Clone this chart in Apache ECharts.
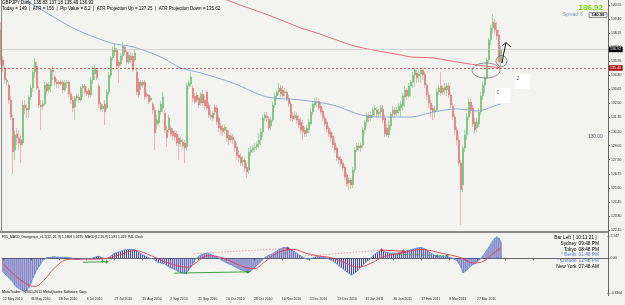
<!DOCTYPE html>
<html><head><meta charset="utf-8">
<script src="https://cdn.jsdelivr.net/npm/echarts@6/dist/echarts.min.js"></script>
<style>html,body{margin:0;padding:0;background:#f3f4f0}#c{width:625px;height:305px}</style>
</head><body><div id="c"></div><script>
// ---- data ----
const dateLabels = ['12 May 2010','31 May 2010','18 Jun 2010','8 Jul 2010','27 Jul 2010','15 Aug 2010','2 Sep 2010','21 Sep 2010','10 Oct 2010','28 Oct 2010','16 Nov 2010','5 Dec 2010','23 Dec 2010','11 Jan 2011','30 Jan 2011','17 Feb 2011','8 Mar 2011','27 Mar 2011'];
const priceTicks = ['140.55','139.40','138.25','137.10','135.95','134.80','133.65','132.50','131.35','130.20','129.05','127.90','126.75','125.60','124.45','123.30','122.15'];
const macdTicks = ['2.147','0.00','-3.3304'];
// [open, close, low, high]
const bars = [
[138.51,136.05,135.64,139.16],[136.05,135.56,135.07,136.38],[135.40,134.42,134.09,135.56],[134.25,134.42,133.93,134.58],[134.01,132.78,132.46,134.25],
[132.78,131.39,131.15,133.11],[131.31,128.53,126.73,131.56],[128.69,129.92,127.88,130.33],[130.00,129.68,129.10,130.49],[129.68,129.27,128.69,130.33],
[129.51,129.10,127.63,129.92],[129.27,132.37,129.02,132.78],[132.37,132.13,131.64,132.78],[132.13,131.97,131.31,132.46],[131.97,133.03,131.31,133.19],
[133.03,133.76,132.78,134.01],[133.76,135.07,133.44,135.24],[135.07,135.89,134.58,136.22],[135.56,133.76,133.60,135.89],[133.60,132.37,132.13,133.93],
[132.37,132.21,130.33,132.78],[132.29,132.46,131.97,132.78],[132.46,134.01,132.29,134.25],[134.09,133.52,133.27,134.25],[133.60,134.01,133.36,134.25],
[133.93,135.24,133.44,135.40],[135.24,135.07,134.42,135.56],[134.66,134.25,133.93,134.83],[134.25,134.09,133.76,134.50],[134.09,134.25,133.76,134.42],
[134.25,134.09,133.93,134.42],[134.25,133.60,133.36,134.42],[133.60,134.17,133.44,134.42],[134.17,134.25,133.76,134.42],[134.25,133.27,133.03,134.42],
[133.27,132.78,132.46,133.44],[132.78,132.13,131.80,133.11],[132.21,132.95,131.15,133.11],[132.95,133.11,132.70,133.36],[133.03,132.78,132.54,133.27],
[132.78,133.76,132.62,133.93],[133.76,133.93,133.03,134.09],[133.93,133.44,133.19,134.09],[133.52,133.27,133.11,133.85],[133.60,133.19,132.95,133.76],
[133.19,134.42,133.03,134.66],[134.42,135.24,134.09,135.56],[134.91,135.40,134.42,135.64],[135.24,134.58,134.42,135.40],[133.93,132.46,132.13,134.09],
[132.46,132.05,131.80,132.62],[132.05,132.29,131.80,132.46],[132.46,131.80,130.74,132.78],[132.13,133.44,131.97,133.68],[133.44,134.83,133.27,135.07],
[134.83,136.22,134.58,136.38],[136.22,136.87,136.05,137.12],[136.71,137.03,136.38,137.44],[136.87,135.56,135.40,137.03],[135.89,135.56,134.17,136.05],
[135.73,136.38,135.56,136.63],[136.38,137.20,136.05,137.53],[137.12,136.71,136.46,137.28],[136.71,135.89,135.64,136.87],[135.89,136.46,135.73,136.71],
[136.38,136.05,135.81,136.71],[136.38,135.24,135.07,136.63],[136.05,136.63,135.89,136.87],[135.07,133.44,133.19,135.40],[134.25,133.19,132.95,134.58],
[133.93,134.25,133.60,134.42],[134.25,134.01,133.76,134.42],[134.25,133.03,132.78,134.42],[133.27,133.11,132.87,133.44],[133.19,132.62,132.46,133.27],
[132.78,132.95,132.62,133.11],[132.46,131.97,131.64,132.62],[131.97,130.08,128.69,132.21],[130.82,131.15,130.33,131.56],[130.90,131.88,130.66,132.05],
[131.80,132.46,131.56,132.70],[132.13,133.03,131.80,133.44],[131.72,130.33,130.08,131.97],[130.33,129.68,128.94,130.66],[130.33,131.31,130.08,131.56],
[130.49,130.00,129.76,130.74],[130.25,129.84,129.51,130.49],[130.08,129.76,129.43,130.33],[130.00,129.27,129.02,130.25],[129.68,129.19,127.88,129.84],
[129.35,129.51,128.94,129.76],[129.35,129.02,128.69,129.59],[129.27,128.86,127.63,129.51],[128.94,133.93,128.69,134.25],[133.93,134.17,133.68,134.42],
[134.09,134.66,133.85,135.07],[133.76,132.95,132.62,134.01],[133.11,132.62,132.46,133.36],[133.19,132.78,132.54,133.44],[132.95,132.37,132.13,133.19],
[132.54,133.27,132.29,133.44],[133.27,132.54,132.29,133.60],[132.78,132.29,131.97,133.11],[133.44,132.13,131.88,133.60],[132.37,131.56,131.31,132.62],
[131.56,131.39,131.15,131.97],[131.31,131.72,131.07,131.88],[132.21,131.80,131.56,132.46],[132.13,130.98,130.74,132.37],[131.31,130.49,130.17,131.56],
[130.66,130.33,129.92,130.90],[130.49,130.17,129.84,130.74],[130.33,130.58,130.00,130.74],[130.33,129.68,129.35,130.58],[129.92,129.51,129.10,130.33],
[129.51,129.84,129.27,130.08],[129.76,129.51,129.19,130.00],[129.43,128.86,128.53,129.68],[128.94,128.20,127.88,129.27],[128.29,128.04,127.71,128.69],
[128.12,127.63,127.39,128.45],[127.71,127.88,127.30,128.20],[127.88,127.22,126.90,128.12],[127.30,126.90,126.41,127.63],[127.06,128.53,126.73,128.86],
[128.53,128.69,128.20,129.02],[128.69,128.86,128.45,129.10],[128.86,128.94,128.53,129.27],[128.94,129.19,128.69,129.43],[129.19,129.51,128.86,130.08],
[129.51,130.17,129.10,130.49],[130.17,131.31,129.76,131.56],[131.31,131.56,131.07,131.80],[131.47,131.31,130.98,131.80],[131.23,130.49,130.25,131.47],
[130.66,131.15,130.33,131.39],[131.15,132.37,130.98,132.62],[132.37,133.11,132.13,133.36],[133.11,133.44,132.78,133.60],[133.44,133.76,133.19,134.17],
[133.76,133.27,133.03,134.01],[133.60,133.11,132.95,133.93],[133.36,133.44,133.11,133.76],[133.44,132.87,132.70,133.68],[132.95,132.46,132.21,133.19],
[132.46,131.31,131.07,132.70],[131.47,131.23,130.98,131.80],[131.31,131.56,131.15,131.88],[131.47,131.15,130.82,131.80],[131.23,130.74,130.49,131.56],
[130.98,130.33,130.00,131.31],[130.66,130.17,129.51,131.15],[130.33,130.00,129.76,130.58],[130.08,130.49,129.76,130.74],[130.33,130.98,130.08,131.23],
[130.82,131.80,130.66,132.13],[131.80,132.46,131.56,132.70],[132.37,132.62,132.13,132.95],[132.54,132.62,132.21,133.03],[132.70,132.13,131.97,132.95],
[132.29,131.80,131.56,132.54],[131.88,131.31,131.07,132.13],[131.31,130.82,130.58,131.56],[130.98,130.41,130.17,131.23],[130.49,130.00,129.76,130.66],
[130.17,129.68,129.35,130.33],[129.84,129.10,128.86,130.08],[129.27,128.69,128.45,129.51],[128.86,128.04,127.80,129.02],[128.12,127.88,127.55,128.29],
[127.96,127.55,127.30,128.20],[127.63,127.22,126.98,127.88],[127.30,126.49,126.24,127.47],[126.65,125.91,125.67,126.90],[126.00,126.24,125.42,126.49],
[126.24,125.83,125.51,126.41],[125.83,127.06,125.59,127.30],[127.06,128.69,126.81,128.94],[128.69,129.02,128.53,129.27],[129.02,128.86,128.61,129.27],
[128.86,129.10,128.53,129.35],[129.10,130.33,128.86,130.58],[130.33,130.98,130.00,131.15],[130.98,131.56,130.66,131.80],[131.56,131.31,130.98,131.80],
[131.31,131.56,131.07,131.80],[131.56,131.97,131.31,132.21],[131.97,132.13,131.47,132.37],[131.97,131.64,131.31,132.21],[131.64,131.80,131.31,132.05],
[131.80,132.13,131.47,132.37],[132.05,131.15,130.90,132.37],[131.31,130.00,129.76,131.56],[130.49,129.92,129.76,130.82],[129.92,130.74,129.68,131.15],
[130.66,131.64,130.33,131.80],[131.64,131.97,131.39,132.29],[131.97,131.64,131.39,132.21],[131.72,131.97,131.47,132.21],[131.88,132.29,131.64,132.54],
[132.13,132.46,131.39,132.70],[132.29,133.11,131.97,133.36],[133.03,133.60,132.21,133.93],[133.60,133.11,132.78,133.76],[133.11,133.93,132.95,134.17],
[133.93,134.25,133.03,134.42],[134.25,134.83,133.76,135.07],[134.83,135.24,133.85,135.40],[134.99,134.58,134.17,135.24],[134.75,134.91,134.25,135.24],
[134.91,135.24,134.17,135.40],[135.24,134.83,134.42,135.40],[134.91,134.01,133.76,135.07],[134.01,133.19,132.78,134.17],[133.19,132.54,132.13,133.44],
[132.54,131.97,131.39,132.78],[132.13,131.80,131.15,132.37],[131.80,131.97,131.31,132.29],[131.97,133.44,131.80,133.76],[133.44,133.76,133.19,134.01],
[133.93,133.36,133.11,135.07],[133.44,133.76,133.19,134.01],[133.85,133.60,133.27,134.17],[133.60,133.93,133.11,134.17],[133.93,133.19,132.95,134.17],
[133.19,132.37,132.13,133.44],[132.29,131.39,131.15,132.54],[131.39,130.33,129.92,131.64],[130.33,129.51,129.10,130.66],[129.51,127.63,127.39,129.92],
[127.63,125.42,122.56,127.88],[125.83,128.86,125.26,129.10],[128.86,129.92,128.53,130.33],[129.92,131.39,129.51,131.72],[131.39,132.62,131.15,132.95],
[132.62,131.97,131.64,132.87],[132.13,130.82,130.58,132.37],[130.98,130.33,130.08,131.31],[130.49,130.98,130.17,131.31],[130.82,131.80,130.58,132.13],
[131.80,133.11,131.56,133.44],[133.11,134.01,132.78,134.25],[134.01,134.58,133.36,134.75],[134.58,136.05,134.42,136.22],[136.05,137.69,135.89,137.85],
[137.69,138.67,137.28,138.92],[138.67,139.16,138.26,139.82],[139.08,138.51,138.10,139.49],[138.51,138.02,137.69,139.16],[138.10,135.89,135.56,138.51],
[135.83,136.92,135.49,137.18]
];
// moving averages, [bar index, price]
const maBlue = [[0,142.10],[12,140.96],[28,139.41],[38,138.51],[55,137.44],[66,137.12],[80,136.30],[90,135.40],[100,134.99],[116,134.17],[133,133.03],[150,132.78],[166,132.37],[180,131.56],[190,131.39],[205,131.39],[216,131.80],[228,132.05],[238,131.88],[248,132.37],[250,132.45]];
const maRed = [[100,142.00],[113,140.96],[135,139.65],[150,138.67],[158,138.26],[175,137.28],[186,136.87],[200,136.46],[205,136.30],[216,136.22],[228,135.89],[238,135.64],[246,135.48],[250,135.40]];
const bidPrice = 136.92;
const levelPrice = 135.40;
// MACD main (histogram), one value per bar
const macdMain = [
-1.3,-1.5,-1.7,-1.9,-2.1,-2.3,-2.6,-2.8,-2.9,-3.0,-3.1,-3.2,-3.1,-2.8,-2.4,-1.9,-1.5,-1.1,-0.8,-0.5,
-0.2,-0.05,0.05,0.05,0.1,0.15,0.15,0.12,0.1,0.1,0.12,0.1,0.1,0.08,0.05,0.0,-0.1,-0.15,-0.1,-0.1,
-0.05,0.0,0.0,-0.05,-0.05,0.0,0.1,0.2,0.2,0.1,0.05,0.0,-0.05,0.05,0.2,0.35,0.5,0.55,0.6,0.65,
0.75,0.8,0.85,0.85,0.85,0.9,0.85,0.75,0.6,0.45,0.35,0.25,0.15,0.05,0.0,-0.05,-0.1,-0.3,-0.4,-0.45,
-0.5,-0.5,-0.65,-0.8,-0.85,-0.95,-1.05,-1.15,-1.25,-1.35,-1.4,-1.45,-1.5,-1.2,-0.9,-0.6,-0.3,0.0,0.15,0.3,
0.4,0.45,0.5,0.5,0.4,0.3,0.2,0.15,0.05,-0.05,-0.2,-0.3,-0.4,-0.5,-0.6,-0.65,-0.75,-0.85,-0.95,-1.05,
-1.15,-1.2,-1.3,-1.4,-1.3,-1.1,-0.9,-0.75,-0.6,-0.4,-0.2,0.0,0.15,0.25,0.3,0.4,0.5,0.65,0.8,0.9,
1.0,1.05,1.05,1.0,0.9,0.8,0.7,0.55,0.4,0.3,0.15,0.05,-0.05,-0.1,-0.1,0.0,0.1,0.15,0.15,0.15,
0.15,0.1,0.05,0.0,-0.1,-0.2,-0.3,-0.45,-0.6,-0.75,-0.9,-1.05,-1.2,-1.35,-1.5,-1.6,-1.5,-1.35,-1.2,-1.0,
-0.8,-0.6,-0.4,-0.25,-0.1,0.1,0.3,0.45,0.6,0.7,0.75,0.7,0.6,0.55,0.5,0.5,0.5,0.5,0.5,0.55,
0.6,0.65,0.7,0.75,0.8,0.85,0.9,0.95,1.0,1.05,1.05,1.0,0.9,0.75,0.6,0.45,0.35,0.3,0.25,0.2,
0.2,0.2,0.15,0.15,0.1,0.05,0.0,-0.1,-0.25,-0.5,-0.9,-1.4,-1.3,-1.1,-0.9,-0.7,-0.6,-0.5,-0.35,-0.2,
0.0,0.25,0.5,0.8,1.1,1.4,1.7,1.95,2.1,1.95,1.58
];
// MACD signal, [bar index, value]
const macdSignal = [[0,-0.5],[8,-1.95],[16,-2.7],[21,-2.0],[26,-0.9],[33,-0.1],[50,-0.05],[58,0.3],[66,0.75],[75,0.2],[83,-0.45],[93,-0.85],[96,-0.55],[103,0.25],[110,0.05],[120,-0.75],[126,-1.0],[131,-0.4],[138,0.55],[146,0.85],[152,0.5],[158,0.25],[165,0.05],[172,-0.45],[178,-0.85],[185,-0.45],[191,0.15],[200,0.5],[210,0.85],[220,0.5],[230,0.05],[236,-0.45],[241,-0.3],[246,0.45],[250,1.02]];
// divergence lines and markers, [bar index, value]
const divGreenA = [[40,-0.37],[53,-0.33]];
const divGreenB = [[86,-1.42],[123,-1.3]];
const divRedA = [[96,0.45],[143,0.96]];
const divRedB = [[150,0.2],[190,0.79]];
const divRedC = [[190,0.79],[201,0.69]];
const divGreenC = [[195,0.4],[223,0.24]];
const redMarks = [[143,0.96],[190,0.79],[201,0.69]];
const greenMarks = [[50,-0.27],[52,-0.33],[123,-1.3],[218,0.21],[223,0.24]];

// ---- chart ----
const NCAT = 304;
const cats = Array.from({length: NCAT}, (_, i) => String(i));
const FONT = 'Liberation Sans, Arial, sans-serif';
const priceTickVals = priceTicks.map(Number);
const macdTickVals = macdTicks.map(Number);
const chart = echarts.init(document.getElementById('c'), null, {renderer: 'canvas'});

function lineSeries(data, color, type, width, x, y) {
  return {type: 'line', xAxisIndex: x, yAxisIndex: y, data: data, showSymbol: false, silent: true,
    lineStyle: {color: color, type: type, width: width}, z: 4};
}

const txt = (x, y, text, size, color, extra) => ({type: 'text', x: x, y: y, silent: true, z: 100,
  style: Object.assign({text: text, fontSize: size, fill: color, fontFamily: FONT}, extra || {})});

const clockRows = [['Bar Left', '[ 10:11:21 ]', '#000'], ['Sydney', '09:48 PM', '#000'], ['Tokyo', '08:48 PM', '#000'],
  ['* Berlin', '01:48 PM', '#4d80d6'], ['* London', '12:48 PM', '#4d80d6'], ['New York', '07:48 AM', '#000']];

const graphics = [
  // panel borders
  {type: 'line', shape: {x1: 1.5, y1: 0, x2: 1.5, y2: 231}, style: {stroke: '#888', lineWidth: 1}, silent: true, z: 50},
  {type: 'rect', shape: {x: 0, y: 231, width: 609, height: 2}, style: {fill: '#8a8a8a'}, silent: true, z: 50},
  {type: 'line', shape: {x1: 608.5, y1: 0, x2: 608.5, y2: 296}, style: {stroke: '#666', lineWidth: 1}, silent: true, z: 50},
  // header texts
  txt(2, 0.5, 'GBPJPY,Daily  135.83 137.18 135.49 136.92', 4.6, '#000'),
  txt(2, 6.5, 'Today = 149  |  ATR = 156  |  Pip Value = 8.2  |  ATR Projection Up = 137.25  |  ATR Projection Down = 135.62', 4.5, '#000'),
  txt(603, 4, '136.92', 8, '#6de000', {align: 'right', fontWeight: 'bold'}),
  txt(563, 12.5, 'Spread: 6', 4.6, '#7b98c8'),
  {type: 'rect', shape: {x: 589, y: 12.5, width: 18, height: 5}, style: {fill: '#e6e6e6', stroke: '#444', lineWidth: 0.5}, silent: true, z: 99},
  txt(598, 13, '140.00', 4.2, '#111', {align: 'center', fontWeight: 'bold'}),
  txt(588, 134.5, '130.00', 4.8, '#556'),
  // annotations
  {type: 'rect', shape: {x: 495, y: 88, width: 15, height: 15}, style: {fill: '#fff'}, silent: true, z: 60},
  txt(496.5, 90, '1', 5, '#555'),
  {type: 'rect', shape: {x: 515, y: 74, width: 15, height: 15}, style: {fill: '#fff'}, silent: true, z: 60},
  txt(516.5, 76, '2', 5, '#555'),
  {type: 'ellipse', shape: {cx: 486, cy: 70.5, rx: 14, ry: 7.5}, style: {fill: 'none', stroke: '#666', lineWidth: 0.7}, silent: true, z: 61},
  {type: 'circle', shape: {cx: 501.5, cy: 61, r: 5.5}, style: {fill: 'none', stroke: '#666', lineWidth: 0.7}, silent: true, z: 61},
  {type: 'polyline', shape: {points: [[502, 63], [504, 52], [506, 43]]}, style: {stroke: '#111', lineWidth: 1, fill: 'none'}, silent: true, z: 62},
  {type: 'polyline', shape: {points: [[502.5, 45.5], [506, 42.5], [511, 47]]}, style: {stroke: '#111', lineWidth: 1, fill: 'none'}, silent: true, z: 62},
  // indicator panel texts
  txt(2, 236, 'FX5_MACD_Divergence_v1.1(12, 26, 9) 1.5808 1.0195  MACD(12,26,9) 1.581 1.019  P4L Clock', 3.3, '#000'),
  txt(2, 289.5, 'MetaTrader \u00a9 2001-2011 MetaQuotes Software Corp.', 3.6, '#000'),
];
clockRows.forEach((r, k) => {
  const y = 235.5 + k * 5.7;
  const rx = k === 0 ? 571 : 576.5;
  graphics.push(txt(rx, y, r[0], 4.8, r[2], {align: 'right'}));
  graphics.push(txt(rx + 2, y, r[1], 4.8, r[2]));
});

const option = {
  animation: false,
  backgroundColor: '#f3f4f0',
  textStyle: {fontFamily: FONT},
  grid: [
    {left: 0, right: 17, top: 0, height: 231},
    {left: 0, right: 17, top: 236, height: 57}
  ],
  xAxis: [
    {type: 'category', gridIndex: 0, data: cats, boundaryGap: true, axisLine: {show: false}, axisTick: {show: false}, axisLabel: {show: false}, splitLine: {show: false}},
    {type: 'category', gridIndex: 1, data: cats, boundaryGap: true, offset: 3,
      axisLine: {show: true, lineStyle: {color: '#666', width: 1}},
      axisTick: {show: true, length: 2, interval: (i) => i % 14 === 0, alignWithLabel: true, lineStyle: {color: '#666'}},
      axisLabel: {show: true, interval: (i) => i % 14 === 0, formatter: (v, i) => (i % 14 === 0 && dateLabels[i / 14]) ? dateLabels[i / 14] : '',
        align: 'left', fontSize: 3.4, color: '#222', margin: 2, fontFamily: FONT},
      splitLine: {show: false}}
  ],
  yAxis: [
    {type: 'value', gridIndex: 0, position: 'right', min: 122.07, max: 140.96,
      axisLine: {show: false}, splitLine: {show: false},
      axisTick: {show: true, customValues: priceTickVals, length: 2, lineStyle: {color: '#666'}},
      axisLabel: {show: true, customValues: priceTickVals, formatter: (v) => { const k = priceTickVals.findIndex(t => Math.abs(t - v) < 0.001); return k >= 0 ? priceTicks[k] : ''; },
        fontSize: 3.4, color: '#222', margin: 3, fontFamily: FONT}},
    {type: 'value', gridIndex: 1, position: 'right', min: -3.3304, max: 2.147,
      axisLine: {show: false}, splitLine: {show: false},
      axisTick: {show: true, customValues: macdTickVals, length: 2, lineStyle: {color: '#666'}},
      axisLabel: {show: true, customValues: macdTickVals, showMinLabel: true, showMaxLabel: true,
        formatter: (v) => { const k = macdTickVals.findIndex(t => Math.abs(t - v) < 0.0001); return k >= 0 ? macdTicks[k] : ''; },
        fontSize: 3.4, color: '#222', margin: 3, fontFamily: FONT}}
  ],
  series: [
    {type: 'candlestick', xAxisIndex: 0, yAxisIndex: 0, data: bars, barWidth: 1.4, silent: true, z: 3,
      itemStyle: {color: '#2f9f2f', color0: '#cc1f1f', borderColor: '#79c479', borderColor0: '#e58b8b', borderWidth: 0.6},
      markLine: {silent: true, symbol: ['none', 'none'], animation: false,
        data: [
          {yAxis: bidPrice, lineStyle: {color: '#c4c4c4', type: 'solid', width: 0.6},
            label: {show: true, position: 'end', distance: 0.5, formatter: bidPrice.toFixed(2), backgroundColor: '#000', color: '#fff', fontSize: 3.6, padding: [0.8, 1.6], fontFamily: FONT}},
          {yAxis: levelPrice, lineStyle: {color: '#e03030', type: [2, 2], width: 0.8},
            label: {show: true, position: 'end', distance: 0.5, formatter: levelPrice.toFixed(2), backgroundColor: '#a81616', color: '#fff', fontSize: 3.6, padding: [0.8, 1.6], fontFamily: FONT}}
        ]}},
    Object.assign(lineSeries(maBlue, '#8eaad6', 'solid', 1, 0, 0), {smooth: 0.3}),
    Object.assign(lineSeries(maRed, '#e86a78', 'solid', 1, 0, 0), {smooth: 0.3}),
    {type: 'bar', xAxisIndex: 1, yAxisIndex: 1, data: macdMain, barWidth: 1, silent: true, itemStyle: {color: '#3f3fae'}, z: 2},
    Object.assign(lineSeries(macdMain, '#5e92e8', 'solid', 0.9, 1, 1), {z: 3}),
    Object.assign(lineSeries(macdSignal, '#e23d48', 'solid', 0.9, 1, 1), {smooth: 0.4, z: 5}),
    lineSeries(divGreenA, '#2e9a2e', 'solid', 0.9, 1, 1),
    lineSeries(divGreenB, '#2e9a2e', 'solid', 0.9, 1, 1),
    lineSeries(divRedA, '#ee8a8a', [1.5, 1.5], 0.8, 1, 1),
    lineSeries(divRedB, '#ee8a8a', [1.5, 1.5], 0.8, 1, 1),
    lineSeries(divRedC, '#e03030', 'solid', 0.9, 1, 1),
    lineSeries(divGreenC, '#2e9a2e', [1.5, 1.5], 0.8, 1, 1),
    {type: 'scatter', xAxisIndex: 1, yAxisIndex: 1, data: redMarks, symbol: 'path://M0,-1L0.3,-0.3L1,0L0.3,0.3L0,1L-0.3,0.3L-1,0L-0.3,-0.3Z', symbolSize: 4.5, itemStyle: {color: '#e01010'}, silent: true, z: 6},
    {type: 'scatter', xAxisIndex: 1, yAxisIndex: 1, data: greenMarks, symbol: 'path://M0,-1L0.3,-0.3L1,0L0.3,0.3L0,1L-0.3,0.3L-1,0L-0.3,-0.3Z', symbolSize: 4.5, itemStyle: {color: '#1e8a1e'}, silent: true, z: 6}
  ],
  graphic: graphics
};
chart.setOption(option);
</script></body></html>
